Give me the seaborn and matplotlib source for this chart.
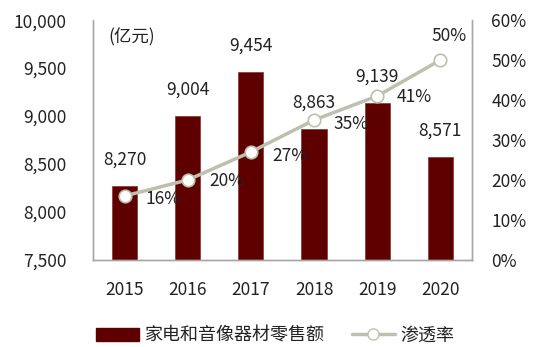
import matplotlib
matplotlib.use("Agg")
import matplotlib.pyplot as plt
import seaborn as sns
import pandas as pd
import numpy as np
from matplotlib.ticker import FuncFormatter, FixedLocator
from matplotlib.lines import Line2D
from matplotlib.patches import Patch

years = ["2015", "2016", "2017", "2018", "2019", "2020"]
sales = [8270, 9004, 9454, 8863, 9139, 8571]
penetration = [16, 20, 27, 35, 41, 50]

sns.set_theme(style="white")
plt.rcParams['font.family'] = ['Noto Sans CJK SC', 'DejaVu Sans']

bar_color = "#5E0000"
line_color = "#BFBFAE"
text_color = "#222222"
spine_color = "#A6A6A6"
fs = 12.5

df = pd.DataFrame({"year": years, "sales": sales, "pen": penetration})

fig = plt.figure(figsize=(5.5, 3.47), dpi=100)
ax = fig.add_axes([0.169, 0.251, 0.689, 0.691])
sns.barplot(data=df, x="year", y="sales", color=bar_color, width=0.4,
            saturation=1, ax=ax, edgecolor="#8a3030", linewidth=0.5)
ax.set_ylim(7500, 10000)
ax.set_yticks([7500, 8000, 8500, 9000, 9500, 10000])
ax.yaxis.set_major_formatter(FuncFormatter(lambda v, p: f"{int(v):,}"))
ax.set_xlabel("")
ax.set_ylabel("")
ax.set_xlim(-0.5, 5.5)

ax2 = ax.twinx()
sns.lineplot(x=np.arange(len(years)), y=penetration, ax=ax2, color=line_color,
             linewidth=2.5, marker="o", markersize=9, markerfacecolor="white",
             markeredgecolor=line_color, markeredgewidth=1.2)
ax2.set_ylim(0, 60)
ax2.set_yticks([0, 10, 20, 30, 40, 50, 60])
ax2.yaxis.set_major_formatter(FuncFormatter(lambda v, p: f"{int(v)}%"))
ax2.set_ylabel("")

for a in (ax, ax2):
    a.spines["top"].set_visible(False)
    for s in ("left", "right", "bottom"):
        a.spines[s].set_color(spine_color)
        a.spines[s].set_linewidth(1)

ax.tick_params(axis="y", length=0, pad=19, labelsize=fs, labelcolor=text_color)
ax2.tick_params(axis="y", length=0, pad=14, labelsize=fs, labelcolor=text_color)
ax.tick_params(axis="x", which="major", length=0, pad=15, labelsize=fs, labelcolor=text_color)
ax.xaxis.set_minor_locator(FixedLocator(np.arange(-0.5, 6, 1)))
ax.tick_params(axis="x", which="minor", length=6, width=1, color=spine_color, direction="out")
ax.spines["left"].set_bounds(7500, 9990)
ax2.spines["right"].set_bounds(0, 59.9)

# bar labels
for i, v in enumerate(sales):
    ax.annotate(f"{v:,}", (i, v), xytext=(0, 19), textcoords="offset points",
                ha="center", va="center", fontsize=fs, color=text_color)
# line labels
offs = [(28, -2), (28, -1), (28, -3), (27, -3), (27, -1), (6, 17)]
for i, v in enumerate(penetration):
    dx, dy = offs[i]
    ax2.annotate(f"{v}%", (i, v), xytext=(dx, dy), textcoords="offset points",
                 ha="center", va="center", fontsize=fs, color=text_color)

ax.text(0.04, 0.93, "(亿元)", transform=ax.transAxes, fontsize=fs,
        color=text_color, ha="left", va="center")

handles = [Patch(facecolor=bar_color, edgecolor=bar_color),
           Line2D([0], [0], color=line_color, lw=2.5, marker="o", markersize=8,
                  markerfacecolor="white", markeredgecolor=line_color)]
fig.legend(handles, ["家电和音像器材零售额", "渗透率"], loc="center",
           bbox_to_anchor=(0.5, 0.032), ncol=2, frameon=False, fontsize=13,
           handlelength=2.4, handleheight=0.75, columnspacing=1.5, handletextpad=0.3,
           labelcolor=text_color)

fig.savefig("out.png", dpi=100)
